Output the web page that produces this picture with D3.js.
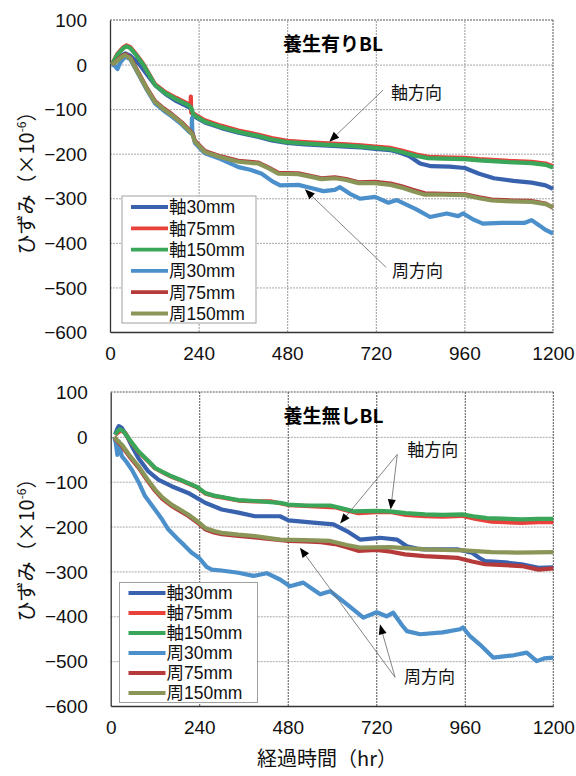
<!DOCTYPE html>
<html>
<head>
<meta charset="utf-8">
<script src="https://cdn.jsdelivr.net/npm/d3@7"></script>
<style>
body { margin: 0; background: #fff; }
</style>
</head>
<body>
<svg id="chart" width="576" height="776"></svg>
<script>
// axis ticks
var xTicks = [0, 240, 480, 720, 960, 1200];
var yTicks = [100, 0, -100, -200, -300, -400, -500, -600];
var seriesNames = ['軸30mm', '軸75mm', '軸150mm', '周30mm', '周75mm', '周150mm'];
var seriesColors = ['#3862ad', '#e8403b', '#3aa659', '#4b8fcb', '#b63a3a', '#8a9558'];

// 養生有りBL  [hr, strain]
var topAx30 = [[5,0],[15,8],[28,18],[41,25],[55,20],[80,0],[100,-22],[122,-46],[150,-66],[180,-82],[212,-95],[220,-99],[226,-115],[257,-130],[300,-142],[348,-153],[400,-162],[438,-170],[480,-176],[528,-179],[590,-182],[640,-184],[680,-186],[718,-189],[760,-192],[780,-196],[810,-205],[840,-222],[870,-228],[920,-229],[961,-232],[1000,-245],[1040,-255],[1093,-261],[1142,-265],[1180,-271],[1200,-279]];
var topAx75 = [[5,0],[20,24],[35,38],[45,43],[55,39],[70,24],[90,2],[122,-44],[150,-62],[180,-75],[212,-88],[218,-92],[219,-72],[220,-108],[226,-110],[257,-125],[300,-137],[348,-148],[400,-157],[438,-165],[480,-171],[528,-174],[590,-177],[640,-179],[680,-181],[718,-184],[760,-187],[790,-193],[830,-202],[862,-207],[900,-208],[961,-209],[1000,-212],[1079,-216],[1142,-218],[1180,-222],[1200,-228]];
var topAx150 = [[5,0],[20,22],[35,36],[45,41],[55,37],[70,22],[90,0],[122,-46],[150,-64],[180,-78],[212,-91],[220,-97],[226,-113],[257,-128],[300,-140],[348,-151],[400,-160],[438,-168],[480,-174],[528,-177],[590,-180],[640,-182],[680,-184],[718,-187],[760,-190],[790,-196],[830,-205],[862,-210],[900,-211],[961,-212],[1000,-215],[1079,-219],[1142,-221],[1180,-225],[1200,-231]];
var topCi30 = [[5,0],[12,-2],[20,-10],[28,5],[41,18],[55,12],[77,-22],[100,-57],[122,-87],[145,-103],[167,-116],[195,-135],[217,-153],[221,-150],[222,-120],[223,-150],[230,-176],[257,-199],[300,-212],[348,-230],[380,-236],[411,-245],[440,-262],[461,-271],[510,-270],[545,-277],[578,-284],[609,-281],[623,-275],[650,-290],[677,-301],[718,-297],[754,-310],[777,-304],[830,-325],[867,-342],[912,-334],[943,-340],[957,-334],[985,-348],[1010,-357],[1060,-355],[1124,-355],[1142,-349],[1165,-362],[1180,-371],[1200,-379]];
var topCi75 = [[5,0],[15,6],[30,18],[41,23],[55,16],[77,-18],[100,-53],[122,-82],[145,-98],[167,-111],[195,-130],[217,-149],[224,-156],[230,-171],[257,-194],[300,-206],[348,-216],[402,-220],[430,-231],[456,-243],[510,-244],[545,-250],[573,-255],[609,-253],[640,-257],[673,-264],[718,-263],[760,-267],[790,-273],[820,-281],[853,-289],[900,-290],[961,-291],[1000,-298],[1034,-303],[1090,-305],[1142,-306],[1180,-312],[1200,-321]];
var topCi150 = [[5,0],[15,5],[30,16],[41,21],[55,14],[77,-20],[100,-55],[122,-84],[145,-100],[167,-113],[195,-132],[217,-151],[224,-158],[230,-173],[257,-196],[300,-208],[348,-218],[402,-222],[430,-233],[456,-245],[510,-246],[545,-252],[573,-257],[609,-255],[640,-259],[673,-266],[718,-266],[760,-270],[790,-276],[820,-284],[853,-292],[900,-292],[961,-293],[1000,-300],[1034,-305],[1090,-307],[1142,-308],[1180,-313],[1200,-320]];

// 養生無しBL  [hr, strain]
var botAx30 = [[12,5],[18,18],[22,24],[30,20],[45,0],[60,-25],[75,-47],[102,-77],[130,-96],[165,-110],[210,-125],[256,-147],[301,-162],[346,-169],[391,-177],[459,-177],[482,-186],[549,-191],[604,-195],[640,-210],[676,-229],[730,-225],[776,-229],[803,-244],[830,-249],[852,-251],[942,-251],[979,-258],[1000,-270],[1015,-277],[1070,-280],[1114,-284],[1160,-292],[1200,-291]];
var botAx75 = [[12,4],[20,10],[28,14],[40,8],[50,-6],[75,-33],[100,-53],[120,-70],[145,-81],[165,-89],[190,-97],[210,-104],[235,-113],[256,-126],[280,-132],[301,-135],[346,-142],[391,-144],[436,-144],[482,-152],[527,-154],[581,-156],[608,-157],[640,-164],[671,-170],[720,-168],[762,-168],[800,-174],[852,-177],[900,-178],[952,-176],[990,-183],[1033,-189],[1114,-192],[1160,-190],[1200,-190]];
var botAx150 = [[12,5],[18,12],[25,17],[35,12],[50,-5],[75,-32],[100,-52],[120,-69],[145,-80],[165,-88],[190,-96],[210,-103],[235,-112],[256,-125],[280,-131],[301,-134],[346,-141],[391,-143],[459,-147],[482,-151],[527,-153],[595,-153],[630,-160],[658,-166],[720,-165],[757,-166],[800,-170],[852,-173],[900,-174],[956,-173],[990,-178],[1020,-181],[1114,-184],[1160,-183],[1200,-183]];
var botCi30 = [[10,0],[14,-15],[18,-40],[22,-10],[30,-43],[42,-55],[57,-73],[75,-100],[93,-132],[120,-162],[140,-185],[156,-206],[183,-229],[200,-242],[219,-258],[240,-270],[260,-290],[274,-296],[300,-298],[346,-303],[387,-310],[423,-304],[459,-318],[486,-333],[522,-325],[545,-338],[568,-351],[595,-344],[640,-373],[685,-403],[721,-391],[748,-400],[766,-392],[790,-420],[803,-433],[839,-440],[900,-436],[947,-429],[955,-425],[975,-445],[1001,-463],[1037,-492],[1092,-487],[1128,-481],[1155,-500],[1175,-494],[1200,-492]];
var botCi75 = [[10,0],[15,-7],[20,-12],[30,-20],[50,-43],[75,-68],[100,-98],[120,-120],[140,-138],[165,-154],[190,-166],[210,-176],[235,-191],[256,-206],[280,-213],[301,-217],[346,-221],[391,-224],[436,-228],[482,-232],[527,-233],[570,-235],[608,-239],[640,-246],[671,-254],[720,-252],[760,-256],[798,-262],[850,-266],[942,-270],[980,-278],[1015,-284],[1114,-288],[1160,-296],[1200,-293]];
var botCi150 = [[10,0],[15,-5],[20,-10],[30,-17],[50,-40],[75,-65],[100,-95],[120,-117],[140,-135],[165,-151],[190,-163],[210,-173],[235,-188],[256,-203],[280,-210],[301,-214],[346,-218],[391,-221],[459,-229],[527,-230],[595,-232],[640,-241],[676,-247],[757,-246],[852,-251],[956,-253],[1033,-257],[1100,-258],[1200,-257]];

// annotations in data coords: label, text pos, arrow start, arrow tips
var topNotes = [
  { text: '軸方向', at: [761, -64], from: [740, -57], tips: [[594, -173]] },
  { text: '周方向', at: [764, -462], from: [748, -455], tips: [[528, -280]] }
];
var botNotes = [
  { text: '軸方向', at: [804, -30], from: [777, -39], tips: [[622, -193], [759, -162]] },
  { text: '周方向', at: [795, -536], from: [771, -536], tips: [[513, -247], [730, -418]] }
];

var svg = d3.select('#chart');
var latin = '"Liberation Sans", "Noto Sans CJK JP", sans-serif';
var cjk = '"Noto Sans CJK JP", sans-serif';

function drawChart(box, title, series, notes, legendBox, vGridColor) {
  var x = d3.scaleLinear().domain([0, 1200]).range([box.left, box.right]);
  var y = d3.scaleLinear().domain([-600, 100]).range([box.bottom, box.top]);
  var g = svg.append('g');

  // grid
  g.append('g').attr('transform', 'translate(' + box.left + ',0)')
    .call(d3.axisLeft(y).tickValues(yTicks.slice(1, -1)).tickSize(-(box.right - box.left)).tickFormat(''))
    .call(function (s) { s.select('.domain').remove(); })
    .selectAll('line').attr('stroke', '#a8a8a8').attr('stroke-dasharray', '2,1');
  g.append('g').attr('transform', 'translate(0,' + box.bottom + ')')
    .call(d3.axisBottom(x).tickValues(xTicks.slice(1, -1)).tickSize(-(box.bottom - box.top)).tickFormat(''))
    .call(function (s) { s.select('.domain').remove(); })
    .selectAll('line').attr('stroke', vGridColor).attr('stroke-dasharray', '2,1');

  // frame
  g.append('line').attr('x1', box.left).attr('x2', box.right).attr('y1', box.top).attr('y2', box.top)
    .attr('stroke', '#555').attr('stroke-dasharray', '2,1');
  g.append('line').attr('x1', box.right).attr('x2', box.right).attr('y1', box.top).attr('y2', box.bottom)
    .attr('stroke', '#555').attr('stroke-dasharray', '2,1');

  // tick labels
  g.append('g').attr('transform', 'translate(' + box.left + ',0)')
    .call(d3.axisLeft(y).tickValues(yTicks).tickSize(0).tickPadding(23).tickFormat(d3.format('d')))
    .call(function (s) { s.select('.domain').attr('stroke', '#333').attr('stroke-width', 1.3); })
    .selectAll('text').attr('font-size', 19).attr('fill', '#111')
    .attr('font-family', latin).attr('dy', '0.35em');
  g.append('g').attr('transform', 'translate(0,' + box.bottom + ')')
    .call(d3.axisBottom(x).tickValues(xTicks).tickSize(0).tickPadding(15).tickFormat(d3.format('d')))
    .call(function (s) { s.select('.domain').attr('stroke', '#333').attr('stroke-width', 1.3); })
    .selectAll('text').attr('font-size', 19).attr('fill', '#111')
    .attr('font-family', latin);

  // series
  var line = d3.line().x(function (d) { return x(d[0]); }).y(function (d) { return y(d[1]); });
  series.forEach(function (s, i) {
    g.append('path').datum(s).attr('d', line).attr('fill', 'none')
      .attr('stroke', seriesColors[i]).attr('stroke-width', 4.2)
      .attr('stroke-linejoin', 'round');
  });

  // title
  g.append('text').attr('x', x(604)).attr('y', box.top + 31).attr('text-anchor', 'middle')
    .attr('font-size', 19).attr('font-weight', 'bold').attr('fill', '#000')
    .attr('font-family', cjk).text(title);

  // annotations
  notes.forEach(function (n) {
    n.tips.forEach(function (t) {
      var x1 = x(n.from[0]), y1 = y(n.from[1]), x2 = x(t[0]), y2 = y(t[1]);
      var a = Math.atan2(y2 - y1, x2 - x1);
      g.append('line').attr('x1', x1).attr('y1', y1).attr('x2', x2 - 8 * Math.cos(a)).attr('y2', y2 - 8 * Math.sin(a))
        .attr('stroke', '#666').attr('stroke-width', 0.8);
      var L = 10, W = 4;
      var bx = x2 - L * Math.cos(a), by = y2 - L * Math.sin(a);
      var pts = [[x2, y2], [bx + W * Math.sin(a), by - W * Math.cos(a)], [bx - W * Math.sin(a), by + W * Math.cos(a)]];
      g.append('polygon').attr('points', pts.map(function (p) { return p.join(','); }).join(' ')).attr('fill', '#000');
    });
    g.append('text').attr('x', x(n.at[0])).attr('y', y(n.at[1])).attr('dy', '0.36em')
      .attr('font-size', 17).attr('fill', '#111')
      .attr('font-family', cjk).text(n.text);
  });

  // legend
  var lg = g.append('g');
  lg.append('rect').attr('x', legendBox.x).attr('y', legendBox.y).attr('width', legendBox.w).attr('height', legendBox.h)
    .attr('fill', '#fff').attr('stroke', '#a0a0a0');
  seriesNames.forEach(function (name, i) {
    var cy = legendBox.y + legendBox.first + i * legendBox.step;
    lg.append('line').attr('x1', legendBox.x + 9).attr('x2', legendBox.x + 46).attr('y1', cy).attr('y2', cy)
      .attr('stroke', seriesColors[i]).attr('stroke-width', 3.8);
    lg.append('text').attr('x', legendBox.x + 47).attr('y', cy).attr('dy', '0.36em')
      .attr('font-size', 17.5).attr('fill', '#111').attr('font-family', latin).text(name);
  });
}

drawChart({ left: 110, right: 553, top: 20, bottom: 332 }, '養生有りBL',
  [topAx30, topAx75, topAx150, topCi30, topCi75, topCi150], topNotes,
  { x: 122, y: 196, w: 134, h: 127, first: 11, step: 21.3 }, '#999');
drawChart({ left: 110.7, right: 553.3, top: 392, bottom: 706 }, '養生無しBL',
  [botAx30, botAx75, botAx150, botCi30, botCi75, botCi150], botNotes,
  { x: 119.5, y: 582.5, w: 138, h: 120, first: 10.5, step: 20 }, '#555');

// axis titles
function yTitle(cy) {
  var t = svg.append('text').attr('transform', 'translate(27,' + cy + ') rotate(-90)')
    .attr('text-anchor', 'middle').attr('dy', '0.35em').attr('font-size', 20).attr('fill', '#111')
    .attr('font-family', cjk);
  t.append('tspan').text('ひずみ（×10');
  t.append('tspan').attr('font-size', 12).attr('dy', '-8').text('-6');
  t.append('tspan').attr('dy', '8').text('）');
}
yTitle(178);
yTitle(545);
svg.append('text').attr('x', 327).attr('y', 766).attr('text-anchor', 'middle')
  .attr('font-size', 20).attr('fill', '#111').attr('font-family', cjk)
  .text('経過時間（hr）');
</script>
</body>
</html>
